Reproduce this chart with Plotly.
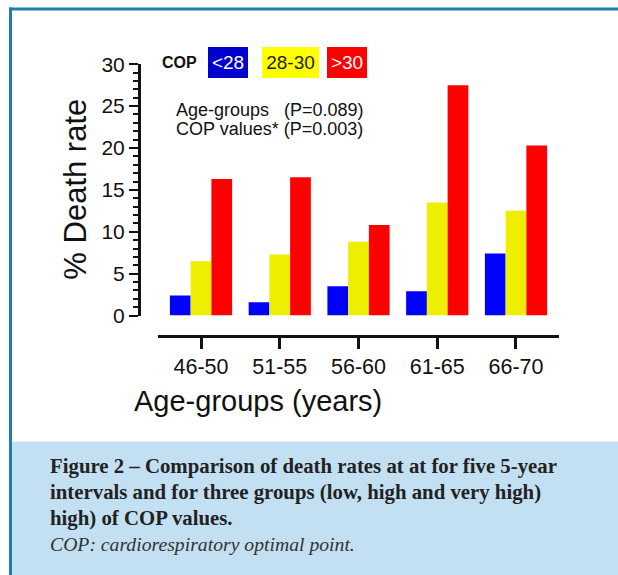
import plotly.graph_objects as go

W, H_REF = 618, 575
H = 600  # page height; the photo squeezes it to 575

age_groups = ["46-50", "51-55", "56-60", "61-65", "66-70"]
cop_lt28 = [2.4, 1.6, 3.5, 2.9, 7.4]
cop_28_30 = [6.5, 7.3, 8.8, 13.5, 12.5]
cop_gt30 = [16.3, 16.5, 10.8, 27.5, 20.3]
series_names = ["<28", "28-30", ">30"]
bar_colors = ["#0000FF", "#EEEE00", "#FF0000"]
legend_colors = ["#0000CC", "#FFFF00", "#FF0000"]
legend_text_colors = ["#FFFFFF", "#222222", "#FFFFFF"]
y_ticks = [0, 5, 10, 15, 20, 25, 30]

caption_lines = [
    "Figure 2 – Comparison of death rates at at for five 5-year",
    "intervals and for three groups (low, high and very high)",
    "high) of COP values.",
]
caption_note = "COP: cardiorespiratory optimal point."

VS = H / H_REF  # vertical stretch


def px(x):
    return x / W


def py(y):
    return 1 - y / H_REF


SANS = "Liberation Sans, Arial, sans-serif"
SERIF = "Liberation Serif, Times New Roman, serif"

fig = go.Figure()
for name, vals, col in zip(series_names, [cop_lt28, cop_28_30, cop_gt30], bar_colors):
    fig.add_trace(go.Bar(x=age_groups, y=vals, name=name, marker_color=col,
                         marker_line_width=0, showlegend=False))

fig.update_layout(
    width=W, height=H, autosize=False,
    margin=dict(l=0, r=0, t=0, b=0, pad=0),
    paper_bgcolor="white", plot_bgcolor="rgba(0,0,0,0)",
    barmode="group", bargap=0.21, bargroupgap=0,
    xaxis=dict(
        type="category", domain=[px(157.7), px(559.3)], range=[-0.55, 4.55],
        anchor="free", position=py(335),
        showline=True, linewidth=3, linecolor="#111",
        ticks="outside", ticklen=10 * VS, tickwidth=3, tickcolor="#111",
        tickfont=dict(family=SANS, size=21.5, color="#111"),
        showgrid=False, zeroline=False,
    ),
    yaxis=dict(
        domain=[py(314.5), py(64)], range=[0, 30],
        anchor="free", position=px(139),
        showline=True, linewidth=3, linecolor="#111",
        tickvals=y_ticks,
        ticks="outside", ticklen=9, tickwidth=2, tickcolor="#111",
        minor=dict(dtick=1, ticks="outside", ticklen=5, tickwidth=2, tickcolor="#111"),
        tickfont=dict(family=SANS, size=21, color="#111"),
        showgrid=False, zeroline=False,
    ),
)

shapes = [
    dict(type="rect", xref="paper", yref="paper", x0=px(9), x1=px(618), y0=py(7.5), y1=py(10.5),
         fillcolor="#1E7FA6", line_width=0, layer="below"),
    dict(type="rect", xref="paper", yref="paper", x0=px(9), x1=px(12), y0=py(7.5), y1=py(575),
         fillcolor="#1E7FA6", line_width=0, layer="below"),
    dict(type="rect", xref="paper", yref="paper", x0=px(12), x1=px(618), y0=py(440), y1=py(575),
         fillcolor="#C2E0F2", line_width=0, layer="below"),
]
fig.update_layout(shapes=shapes)


def label(text, x, y, size, family=SANS, color="#111", xanchor="center", **kw):
    return dict(text=text, x=px(x), y=py(y), xref="paper", yref="paper",
                xanchor=xanchor, yanchor="middle", showarrow=False,
                font=dict(family=family, size=size, color=color), **kw)


ann = []
ann.append(label("<b>COP</b>", 179, 62, 16))
legend_boxes = [(228, 40), (290.5, 57), (347, 40)]
for (cx, w), name, bg, tc in zip(legend_boxes, series_names, legend_colors, legend_text_colors):
    ann.append(label(name.replace("<", "&lt;").replace(">", "&gt;"), cx, 62, 19, color=tc,
                     width=w, height=30 * VS, borderpad=0, borderwidth=0, bgcolor=bg))
ann.append(label("Age-groups\u00a0\u00a0\u00a0(P=0.089)", 174, 109.5, 18, xanchor="left"))
ann.append(label("COP values* (P=0.003)", 174, 128.5, 18, xanchor="left"))
ann.append(label("% Death rate", 76, 189, 31, textangle=-90))
ann.append(label("Age-groups (years)", 258, 400, 29))
cap_y = [464, 490, 516]
for line, yy in zip(caption_lines, cap_y):
    ann.append(label("<b>" + line + "</b>", 48, yy, 20.8, family=SERIF, color="#222", xanchor="left"))
ann.append(label("<i>" + caption_note + "</i>", 48, 542, 19.7, family=SERIF, color="#333", xanchor="left"))
fig.update_layout(annotations=ann)

fig.write_html("out.html", config={"displayModeBar": False},
               post_script="document.body.style.margin='0';document.body.style.marginTop='-12.5px';"
                           "document.body.style.overflow='hidden';")
